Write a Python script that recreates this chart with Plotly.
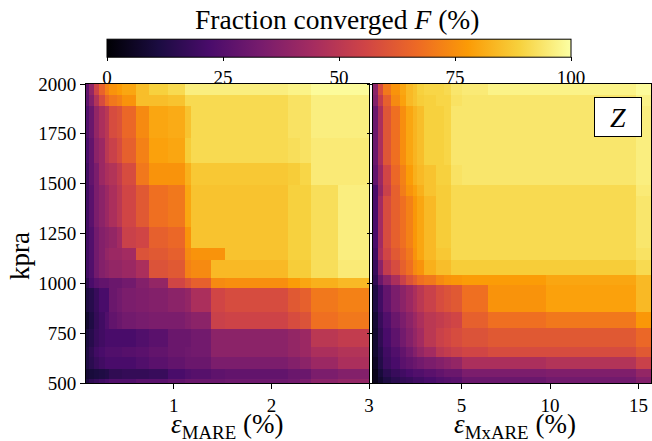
import plotly.graph_objects as go

# ---------------- data ----------------
# Left panel: epsilon_MARE (%) cell edges, kpra cell edges, fraction converged F (%)
mare_edges = [0.1, 0.13, 0.18, 0.23, 0.29, 0.34, 0.42, 0.47, 0.61, 0.75, 0.94,
              1.11, 1.18, 1.38, 1.52, 2.17, 2.29, 2.41, 2.68, 3.0]
kpra_edges_left = [500, 522, 572, 631, 681, 773, 858, 975, 1025, 1118, 1176,
                   1285, 1495, 1604, 1730, 1889, 1945, 2000]
F_mare = [
    [12, 16, 18, 20, 22, 24, 24, 24, 26, 26, 28, 30, 30, 30, 31, 32, 34, 38, 40],
    [9, 10, 11, 12, 13, 16, 16, 17, 17, 18, 22, 24, 25, 27, 28, 30, 30, 34, 36],
    [12, 15, 18, 20, 22, 22, 22, 22, 24, 26, 28, 30, 30, 34, 34, 36, 38, 42, 46],
    [12, 16, 20, 22, 24, 24, 24, 25, 26, 28, 30, 31, 32, 38, 38, 40, 42, 46, 48],
    [11, 14, 18, 20, 22, 22, 22, 22, 24, 26, 30, 30, 32, 38, 38, 40, 42, 50, 52],
    [8, 12, 17, 20, 24, 28, 30, 32, 33, 34, 34, 36, 38, 54, 55, 58, 60, 68, 70],
    [12, 14, 18, 22, 22, 30, 32, 34, 35, 36, 38, 40, 46, 56, 58, 62, 64, 70, 72],
    [16, 22, 26, 28, 28, 30, 30, 32, 36, 40, 56, 60, 64, 74, 75, 78, 80, 82, 84],
    [20, 24, 32, 36, 38, 40, 40, 42, 46, 60, 62, 72, 74, 84, 84, 88, 88, 92, 95],
    [20, 24, 32, 36, 40, 42, 42, 44, 60, 62, 64, 74, 76, 76, 86, 89, 89, 92, 96],
    [20, 24, 32, 36, 38, 40, 44, 54, 56, 64, 66, 76, 86, 86, 86, 89, 89, 92, 96],
    [20, 26, 34, 38, 42, 46, 50, 56, 62, 68, 70, 80, 86, 86, 86, 89, 89, 92, 96],
    [20, 28, 34, 42, 46, 48, 52, 58, 70, 76, 76, 82, 87, 87, 87, 88, 90, 95, 95],
    [22, 28, 38, 42, 50, 54, 58, 64, 72, 79, 80, 88, 91, 91, 91, 92, 93, 95, 95],
    [24, 30, 40, 46, 50, 58, 60, 66, 74, 80, 81, 86, 91, 91, 91, 93, 93, 96, 96],
    [27, 36, 48, 58, 66, 70, 72, 76, 85, 85, 86, 91, 91, 91, 91, 93, 93, 96, 96],
    [28, 40, 55, 65, 72, 76, 78, 80, 85, 89, 91, 96, 96, 96, 96, 97, 97, 99, 99],
]

# Right panel: epsilon_MxARE (%) cell edges, kpra cell edges, F (%)
mxare_edges = [0, 0.3, 0.55, 1.0, 1.55, 1.85, 2.25, 2.5, 2.9, 3.55, 4.0, 4.4,
               5.0, 6.5, 9.75, 14.85, 15.7]
kpra_edges_right = [500, 530, 572, 630, 681, 774, 858, 990, 1042, 1118, 1176,
                    1436, 1495, 1596, 1889, 1945, 2000]
F_mxare = [
    [4, 8, 12, 15, 17, 18, 20, 20, 22, 24, 25, 26, 30, 30, 32, 36],
    [4, 10, 15, 18, 20, 22, 24, 24, 26, 28, 30, 30, 34, 34, 35, 40],
    [6, 13, 19, 22, 26, 28, 30, 32, 34, 36, 38, 40, 46, 46, 48, 54],
    [8, 14, 20, 24, 28, 32, 36, 40, 44, 50, 52, 54, 56, 58, 58, 62],
    [8, 16, 22, 27, 32, 36, 40, 44, 50, 54, 56, 58, 60, 62, 62, 66],
    [9, 18, 24, 30, 34, 38, 42, 46, 50, 52, 54, 56, 64, 68, 70, 77],
    [12, 20, 28, 34, 38, 42, 46, 50, 54, 58, 60, 62, 68, 76, 79, 84],
    [16, 30, 38, 46, 54, 60, 64, 68, 70, 74, 76, 77, 78, 78, 80, 84],
    [18, 38, 52, 58, 64, 68, 74, 76, 82, 85, 85, 88, 88, 88, 88, 91],
    [20, 46, 56, 62, 66, 70, 76, 80, 84, 87, 87, 91, 91, 91, 91, 93],
    [22, 44, 58, 64, 68, 72, 77, 80, 84, 88, 88, 91, 91, 91, 91, 94],
    [22, 40, 54, 64, 71, 76, 79, 82, 86, 88, 88, 91, 91, 91, 91, 95],
    [28, 42, 56, 66, 72, 78, 82, 84, 86, 89, 89, 93, 94, 94, 94, 96],
    [30, 46, 61, 68, 75, 80, 83, 85, 89, 89, 90, 94, 94, 94, 94, 96],
    [36, 52, 64, 74, 79, 84, 86, 88, 89, 90, 90, 93, 94, 94, 94, 97],
    [38, 58, 70, 76, 80, 84, 86, 89, 90, 90, 91, 94, 95, 97, 97, 99],
]

kpra_ticks = [500, 750, 1000, 1250, 1500, 1750, 2000]
mare_ticks = [1, 2, 3]
mxare_ticks = [5, 10, 15]
cbar_ticks = [0, 25, 50, 75, 100]

# ---------------- figure ----------------
FONT = "Liberation Serif"
W, H = 652, 441
ml, mr, mt, mb = 86, 1, 84, 58
pw = W - ml - mr
ph = H - mt - mb


def px_x(p):  # pixel x -> paper x
    return (p - ml) / pw


def px_y(p):  # pixel y -> paper y
    return (H - mb - p) / ph


fig = go.Figure()
fig.add_trace(go.Heatmap(
    x=mare_edges, y=kpra_edges_left, z=F_mare,
    colorscale="Inferno", zmin=0, zmax=100,
    xaxis="x", yaxis="y",
    colorbar=dict(
        orientation="h",
        x=(px_x(107) + px_x(571)) / 2, xanchor="center",
        len=px_x(571) - px_x(107), lenmode="fraction",
        y=px_y(89), yanchor="bottom",
        thickness=18, thicknessmode="pixels",
        outlinecolor="black", outlinewidth=1,
        tickvals=cbar_ticks, ticks="outside", ticklen=4, tickcolor="black",
        tickfont=dict(family=FONT, size=19, color="black"),
        xpad=0, ypad=0,
    ),
))
fig.add_trace(go.Heatmap(
    x=mxare_edges, y=kpra_edges_right, z=F_mxare,
    colorscale="Inferno", zmin=0, zmax=100,
    xaxis="x2", yaxis="y2", showscale=False,
))

axis_common = dict(
    showgrid=False, zeroline=False, showline=True, linecolor="black",
    linewidth=1, mirror=True, ticks="outside", ticklen=5, tickcolor="black",
    tickfont=dict(family=FONT, size=19, color="black"),
)
fig.update_layout(
    width=W, height=H,
    margin=dict(l=ml, r=mr, t=mt, b=mb, autoexpand=False),
    paper_bgcolor="white", plot_bgcolor="white",
    font=dict(family=FONT, color="black"),
    xaxis=dict(domain=[0, px_x(369)], range=[0.1, 3.0],
               tickvals=mare_ticks, **axis_common),
    yaxis=dict(domain=[0, 1], range=[500, 2000], tickvals=kpra_ticks,
               **axis_common),
    xaxis2=dict(domain=[px_x(373), 1], range=[0, 15.7],
                tickvals=mxare_ticks, **axis_common),
    yaxis2=dict(domain=[0, 1], range=[500, 2000], tickvals=kpra_ticks,
                anchor="x2", showticklabels=False, **axis_common),
)

texts = [
    dict(text="Fraction converged <i>F</i> (%)", x=px_x(337), y=px_y(20), size=27.5, angle=0),
    dict(text="<i>ε</i><sub>MARE</sub> (%)", x=px_x(227), y=px_y(426), size=27, angle=0),
    dict(text="<i>ε</i><sub>MxARE</sub> (%)", x=px_x(515), y=px_y(426), size=27, angle=0),
    dict(text="kpra", x=px_x(20), y=px_y(256), size=27, angle=-90),
]
for t in texts:
    fig.add_annotation(xref="paper", yref="paper", x=t["x"], y=t["y"],
                       xanchor="center", yanchor="middle", text=t["text"],
                       textangle=t["angle"], showarrow=False,
                       font=dict(family=FONT, size=t["size"], color="black"))

fig.add_annotation(
    xref="paper", yref="paper",
    x=px_x(617.5), y=px_y(117), xanchor="center", yanchor="middle",
    text="<i>Z</i>", showarrow=False,
    font=dict(family=FONT, size=28, color="black"),
    bgcolor="white", bordercolor="black", borderwidth=1, borderpad=3,
    width=40, height=32,
)

fig.write_html(
    "out.html",
    config={"displayModeBar": False},
    post_script="document.body.style.margin='0';document.body.style.overflow='hidden';",
)
